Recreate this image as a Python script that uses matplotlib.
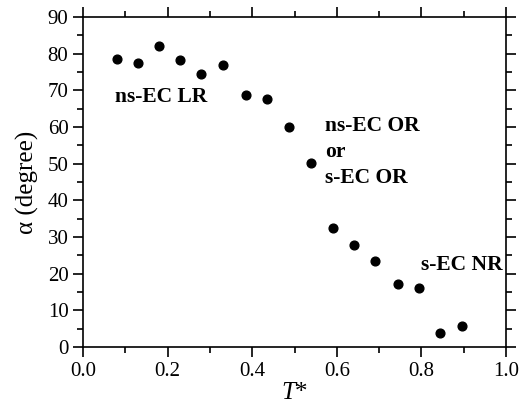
import matplotlib
matplotlib.use('Agg')
import matplotlib.pyplot as plt
from matplotlib.ticker import MultipleLocator

plt.rcParams['font.family'] = 'Liberation Serif'
plt.rcParams['mathtext.fontset'] = 'custom'
plt.rcParams['mathtext.it'] = 'Liberation Serif:italic'
plt.rcParams['mathtext.rm'] = 'Liberation Serif'

# data
t_star = [0.08, 0.13, 0.18, 0.23, 0.28, 0.33, 0.385, 0.435, 0.487,
          0.539, 0.59, 0.64, 0.69, 0.745, 0.795, 0.845, 0.895]
alpha = [78.6, 77.4, 82.1, 78.2, 74.6, 76.9, 68.7, 67.6, 60.0,
         50.2, 32.5, 27.8, 23.5, 17.2, 16.1, 3.8, 5.8]

labels = ['ns-EC LR', 'ns-EC OR', 'or', 's-EC OR', 's-EC NR']
label_x = [0.076, 0.572, 0.572, 0.572, 0.80]
label_y = [68.3, 60.3, 53.2, 46.1, 22.4]

fig = plt.figure(figsize=(5.19, 4.08), dpi=100)
ax = fig.add_axes([0.16, 0.1495, 0.815, 0.8085])

ax.plot(t_star, alpha, 'o', color='black', markersize=6.3)

for s, x, y in zip(labels, label_x, label_y):
    ax.text(x, y, s, fontsize=15.5, fontweight='bold', va='center', ha='left')

ax.set_xlim(0, 1.0)
ax.set_ylim(0, 90)
ax.xaxis.set_major_locator(MultipleLocator(0.2))
ax.xaxis.set_minor_locator(MultipleLocator(0.1))
ax.yaxis.set_major_locator(MultipleLocator(10))
ax.yaxis.set_minor_locator(MultipleLocator(5))
ax.tick_params(which='both', direction='out', top=True, right=True,
               labeltop=False, labelright=False, width=1.2)
ax.tick_params(which='major', length=7, labelsize=15)
ax.tick_params(which='minor', length=4)
for sp in ax.spines.values():
    sp.set_linewidth(1.2)

ax.set_xlabel(r'$T$*', fontsize=18, labelpad=1)
ax.set_ylabel('\u03b1 (degree)', fontsize=18, labelpad=6)

fig.savefig('out.png', dpi=100)
